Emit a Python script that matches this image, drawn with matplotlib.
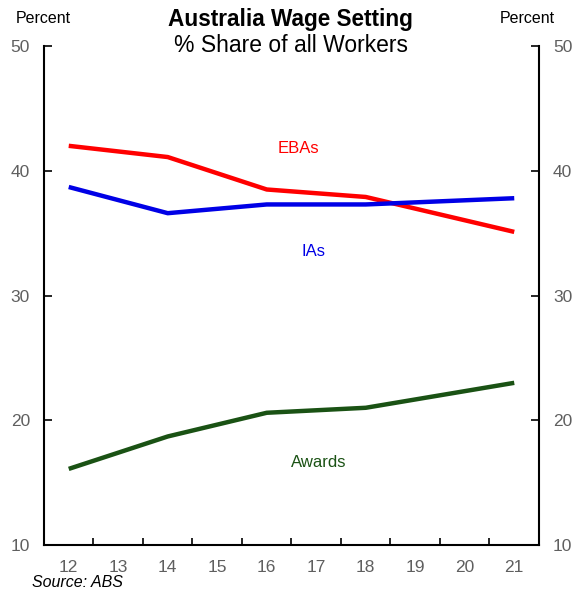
import numpy as np
import matplotlib
matplotlib.use('Agg')
from matplotlib import pyplot as plt
from matplotlib.ticker import FixedLocator

plt.rcParams['font.family'] = ['Liberation Sans', 'DejaVu Sans']

years = [12, 14, 16, 18, 21]
ebas = [42.0, 41.1, 38.5, 37.9, 35.1]
ias = [38.7, 36.6, 37.3, 37.3, 37.8]
awards = [16.1, 18.7, 20.6, 21.0, 23.0]
xlabels = [12, 13, 14, 15, 16, 17, 18, 19, 20, 21]
yticks = [10, 20, 30, 40, 50]

fig = plt.figure(figsize=(5.81, 5.94), dpi=100)
ax = fig.add_axes([0.0757, 0.0825, 0.852, 0.840])

ax.plot(years, ebas, color='#ff0000', lw=3.2, solid_capstyle='butt')
ax.plot(years, ias, color='#0000e6', lw=3.2, solid_capstyle='butt')
ax.plot(years, awards, color='#1a5214', lw=3.2, solid_capstyle='butt')

ax.text(16.65, 41.8, 'EBAs', color='#ff0000', fontsize=12, ha='center', va='center')
ax.text(16.95, 33.5, 'IAs', color='#0000e6', fontsize=12, ha='center', va='center')
ax.text(17.05, 16.6, 'Awards', color='#1a5214', fontsize=12, ha='center', va='center')

ax.set_xlim(11.5, 21.5)
ax.set_ylim(10, 50)
ax.set_xticks(xlabels)
ax.set_xticklabels([str(v) for v in xlabels])
ax.xaxis.set_minor_locator(FixedLocator(np.arange(12.5, 21.5, 1)))
ax.tick_params(axis='x', which='major', length=0, pad=11, labelsize=12.5, labelcolor='#5f5f5f')
ax.tick_params(axis='x', which='minor', direction='in', length=5, width=1.2, top=False)

ax.set_yticks(yticks)
ax.tick_params(axis='y', which='major', direction='in', length=6, width=1.2,
               left=True, right=True, labelleft=True, labelright=True,
               labelsize=12.5, labelcolor='#5f5f5f', pad=10)
ax.spines['top'].set_visible(False)
for s in ['left', 'right', 'bottom']:
    ax.spines[s].set_linewidth(1.5)

fig.text(0.074, 0.969, 'Percent', fontsize=11.5, ha='center', va='center')
fig.text(0.908, 0.969, 'Percent', fontsize=11.5, ha='center', va='center')
fig.text(0.5, 0.968, 'Australia Wage Setting', fontsize=16.3, fontweight='bold', ha='center', va='center')
fig.text(0.5, 0.923, '% Share of all Workers', fontsize=16.5, ha='center', va='center')
fig.text(0.055, 0.02, 'Source: ABS', fontsize=11.5, style='italic', ha='left', va='center')

fig.savefig('out.png', dpi=100)
